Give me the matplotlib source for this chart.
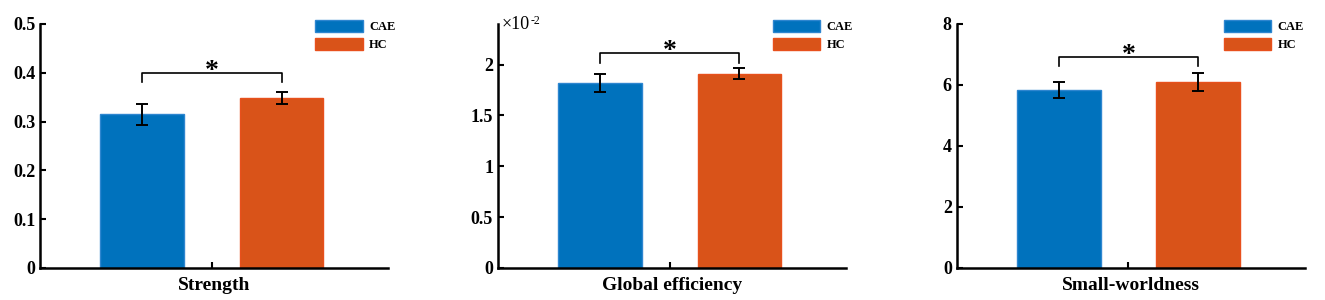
import matplotlib
matplotlib.use("Agg")
import matplotlib.pyplot as plt
from matplotlib.ticker import FuncFormatter

plt.rcParams['font.family'] = ['Liberation Serif', 'DejaVu Serif']
plt.rcParams['font.weight'] = 'bold'

groups = ["CAE", "HC"]
metrics = ["Strength", "Global efficiency", "Small-worldness"]
strength_mean = [0.315, 0.348]
strength_err = [0.021, 0.012]
geff_mean = [0.0182, 0.0191]
geff_err = [0.0009, 0.00055]
sw_mean = [5.85, 6.09]
sw_err = [0.26, 0.29]
sig_labels = ["*", "*", "*"]

means = [strength_mean, geff_mean, sw_mean]
errs = [strength_err, geff_err, sw_err]
ylims = [(0, 0.5), (0, 0.024), (0, 8)]
yticks = [[0, 0.1, 0.2, 0.3, 0.4, 0.5],
          [0, 0.005, 0.01, 0.015, 0.02],
          [0, 2, 4, 6, 8]]
bracket_y = [0.399, 0.0211, 6.92]
bracket_drop = [0.018, 0.0009, 0.29]

colors = ["#0072BD", "#D95319"]
edges = ["#2E86D0", "#E8501C"]

fig = plt.figure(figsize=(13.25, 3.0), dpi=100)
lefts = [0.0302, 0.3758, 0.722]
width = 0.263
bottom, height = 0.1067, 0.8133
leg_x = [0.79, 0.789, 0.767]

offsets = [-0.2, 0.2]
bw = 0.24

for i in range(3):
    ax = fig.add_axes([lefts[i], bottom, width, height])
    for j in range(2):
        x = 1 + offsets[j]
        ax.bar(x, means[i][j], width=bw, color=colors[j], edgecolor=edges[j],
               linewidth=1.0, label=groups[j], zorder=2)
        ax.errorbar(x, means[i][j], yerr=errs[i][j], fmt='none', ecolor='black',
                    elinewidth=1.4, capsize=4.5, capthick=1.4, zorder=3)
    ax.set_xlim(0.507, 1.507)
    ax.set_ylim(*ylims[i])
    ax.set_yticks(yticks[i])
    ax.set_xticks([1])
    ax.set_xticklabels([])
    ax.set_xlabel(metrics[i], fontsize=14, fontweight='bold', labelpad=3)
    for s in ['top', 'right']:
        ax.spines[s].set_visible(False)
    for s in ['left', 'bottom']:
        ax.spines[s].set_linewidth(1.8)
    ax.tick_params(direction='in', length=4, width=1.5, labelsize=13)
    if i == 1:
        ax.yaxis.set_major_formatter(FuncFormatter(lambda v, p: f"{v*100:g}"))
        t1 = ax.annotate('×10', xy=(0, 1.0), xycoords='axes fraction',
                         xytext=(2.5, -0.5), textcoords='offset points',
                         fontsize=13, fontweight='normal', va='center', ha='left')
        ax.annotate('-2', xy=(1, 1), xycoords=t1, xytext=(0.5, 1),
                    textcoords='offset points', fontsize=8.5, fontweight='normal',
                    va='top', ha='left')
    else:
        ax.yaxis.set_major_formatter(FuncFormatter(lambda v, p: f"{v:g}"))
    for lab in ax.get_yticklabels():
        lab.set_fontweight('bold')
    # significance bracket
    x1, x2 = 1 + offsets[0], 1 + offsets[1]
    yb = bracket_y[i]
    d = bracket_drop[i]
    ax.plot([x1, x1, x2, x2], [yb - d, yb, yb, yb - d], color='black', lw=1.2,
            clip_on=False)
    ax.annotate(sig_labels[i], xy=(1.0, yb), xytext=(0, -3.5),
                textcoords='offset points', ha='center', va='baseline',
                fontsize=20, fontweight='bold')
    ax.legend(loc='upper left', bbox_to_anchor=(leg_x[i], 1.015), frameon=False,
              handlelength=3.8, handleheight=1.05,
              labelspacing=0.4, handletextpad=0.5, borderpad=0, borderaxespad=0,
              prop={'weight': 'bold', 'size': 9})

fig.savefig("out.png", dpi=100)
